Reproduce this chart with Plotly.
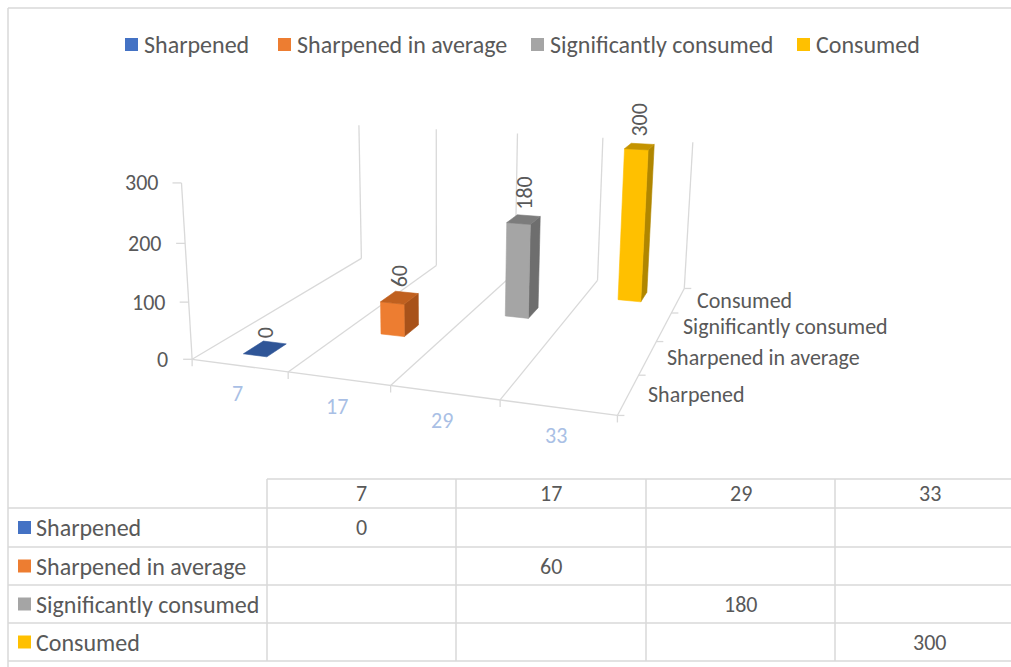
import numpy as np
import plotly.graph_objects as go

# ---- data -------------------------------------------------------------
categories = ["7", "17", "29", "33"]
series = ["Sharpened", "Sharpened in average", "Significantly consumed", "Consumed"]
values = [0, 60, 180, 300]          # series i sits in category i
value_ticks = [0, 100, 200, 300]

# ---- styles -----------------------------------------------------------
front_colors = ["#4472C4", "#ED7D31", "#A5A5A5", "#FFC000"]
top_colors = ["#2F5597", "#C0601F", "#7C7C7C", "#C49300"]
side_colors = ["#2B4F8C", "#A8521A", "#6E6E6E", "#B08600"]
TEXT = "#595959"
GRID = "#D9D9D9"
CAT_TEXT = "#A9BFE5"
FONT = "Calibri, Carlito, Lato, sans-serif"
FS_TXT = 24     # words
FS_NUM = 22     # numbers
FS_DEPTH = 22   # series names along the depth axis (tightly stacked)

W, H = 1011, 667
VMAX = 300
NC, NS = len(categories), len(series)
BAR_W, BAR_D = 0.25, 0.4   # column width / depth as a share of a slot

# ---- 3D -> screen projection (pinhole camera fitted on the plot box) --
box_3d = [(0, 0, 0), (NC, 0, 0), (NC, NS, 0), (0, NS, 0),
          (0, 0, VMAX), (0, NS, VMAX), (NC, NS, VMAX),
          (1, 0, 0), (2, 0, 0), (3, 0, 0),
          (1, NS, VMAX), (2, NS, VMAX), (3, NS, VMAX)]
box_px = [(192, 359), (618, 413), (684, 289), (362, 258),
          (182, 183), (358, 125), (693, 142),
          (288, 371), (390, 388), (500, 401),
          (437, 130), (517, 133), (603, 138)]


def fit_camera(p3, p2):
    rows = []
    for (X, Y, Z), (x, y) in zip(p3, p2):
        Z = Z / VMAX
        x, y = x / 1000.0, y / 1000.0
        rows.append([X, Y, Z, 1, 0, 0, 0, 0, -x * X, -x * Y, -x * Z, -x])
        rows.append([0, 0, 0, 0, X, Y, Z, 1, -y * X, -y * Y, -y * Z, -y])
    _, _, vt = np.linalg.svd(np.array(rows, float))
    return vt[-1].reshape(3, 4)


CAM = fit_camera(box_3d, box_px)


def proj(u, v, h):
    p = CAM @ np.array([u, v, h / VMAX, 1.0])
    return p[0] / p[2] * 1000.0, p[1] / p[2] * 1000.0


fig = go.Figure()


def add_line(pts, color=GRID, width=1.3):
    xs, ys = zip(*pts)
    fig.add_trace(go.Scatter(x=xs, y=ys, mode="lines", hoverinfo="skip",
                             line=dict(color=color, width=width), showlegend=False))


def add_face(pts, color):
    xs, ys = zip(*pts)
    fig.add_trace(go.Scatter(x=list(xs) + [xs[0]], y=list(ys) + [ys[0]], mode="lines",
                             fill="toself", fillcolor=color, hoverinfo="skip",
                             line=dict(color=color, width=0.6), showlegend=False))


# floor lines (category boundaries running front to back)
for k in range(NC + 1):
    add_line([proj(k, 0, 0), proj(k, NS, 0)])
# front edge of the floor
add_line([proj(0, 0, 0), proj(NC, 0, 0)])
# back wall verticals
for k in range(NC + 1):
    add_line([proj(k, NS, 0), proj(k, NS, VMAX)])
# value axis
add_line([proj(0, 0, 0), proj(0, 0, VMAX)])
for t in value_ticks:
    x, y = proj(0, 0, t)
    add_line([(x - 9, y), (x, y)])
    fig.add_annotation(x=x - 22, y=y, text=str(t), showarrow=False, xanchor="right",
                       yanchor="middle", font=dict(family=FONT, size=FS_NUM, color=TEXT))
# category ticks + labels
for k in range(NC + 1):
    x, y = proj(k, 0, 0)
    add_line([(x, y), (x, y + 7)])
for k, c in enumerate(categories):
    x, y = proj(k + 0.5, 0, 0)
    fig.add_annotation(x=x - 2, y=y + 28, text=c, showarrow=False, xanchor="center",
                       yanchor="middle", font=dict(family=FONT, size=FS_NUM, color=CAT_TEXT))
# depth ticks + labels
for k in range(NS + 1):
    x, y = proj(NC, k, 0)
    add_line([(x, y), (x + 7, y)])
for k, s in enumerate(series):
    x, y = proj(NC, k + 0.5, 0)
    fig.add_annotation(x=x + 18, y=y, text=s, showarrow=False, xanchor="left",
                       yanchor="middle", borderpad=0,
                       font=dict(family=FONT, size=FS_DEPTH, color=TEXT))

# columns, drawn back to front
for i in reversed(range(NS)):
    val = values[i]
    u0, u1 = i + 0.5 - BAR_W / 2, i + 0.5 + BAR_W / 2
    v0, v1 = i + 0.5 - BAR_D / 2, i + 0.5 + BAR_D / 2
    if val > 0:
        add_face([proj(u1, v0, 0), proj(u1, v1, 0), proj(u1, v1, val), proj(u1, v0, val)],
                 side_colors[i])
        add_face([proj(u0, v0, 0), proj(u1, v0, 0), proj(u1, v0, val), proj(u0, v0, val)],
                 front_colors[i])
    add_face([proj(u0, v0, val), proj(u1, v0, val), proj(u1, v1, val), proj(u0, v1, val)],
             top_colors[i])
    lx, ly = proj(i + 0.5, i + 0.5, val)
    fig.add_annotation(x=lx, y=ly - 8, text=str(val), showarrow=False, textangle=-90,
                       xanchor="center", yanchor="bottom",
                       font=dict(family=FONT, size=FS_NUM, color=TEXT))

# ---- legend -----------------------------------------------------------
legend_x = [125, 278, 531, 797]
for i, s in enumerate(series):
    fig.add_shape(type="rect", xref="x", yref="y", x0=legend_x[i], x1=legend_x[i] + 13,
                  y0=38, y1=51, fillcolor=front_colors[i], line_width=0)
    fig.add_annotation(x=legend_x[i] + 17, y=44.5, text=s, showarrow=False, xanchor="left",
                       yanchor="middle", font=dict(family=FONT, size=FS_TXT, color=TEXT))

# ---- data table -------------------------------------------------------
col_x = [267, 456, 646, 835, 1024]
row_y = [479, 508, 547, 585, 623, 661]
fig.add_shape(type="line", x0=col_x[0], x1=W, y0=row_y[0], y1=row_y[0],
              line=dict(color=GRID, width=1.5))
for yy in row_y[1:]:
    fig.add_shape(type="line", x0=8, x1=W, y0=yy, y1=yy, line=dict(color=GRID, width=1.5))
for xx in col_x[:-1]:
    fig.add_shape(type="line", x0=xx, x1=xx, y0=row_y[0], y1=row_y[-1],
                  line=dict(color=GRID, width=1.5))
for j, c in enumerate(categories):
    fig.add_annotation(x=(col_x[j] + col_x[j + 1]) / 2, y=(row_y[0] + row_y[1]) / 2,
                       text=c, showarrow=False, font=dict(family=FONT, size=FS_NUM, color=TEXT))
for i, s in enumerate(series):
    yc = (row_y[i + 1] + row_y[i + 2]) / 2
    fig.add_shape(type="rect", x0=18, x1=31, y0=yc - 6.5, y1=yc + 6.5,
                  fillcolor=front_colors[i], line_width=0)
    fig.add_annotation(x=34, y=yc, text=s, showarrow=False, xanchor="left",
                       font=dict(family=FONT, size=FS_TXT, color=TEXT))
    fig.add_annotation(x=(col_x[i] + col_x[i + 1]) / 2, y=yc, text=str(values[i]),
                       showarrow=False, font=dict(family=FONT, size=FS_NUM, color=TEXT))

# chart area border (top and left edges)
fig.add_shape(type="line", x0=8, x1=W, y0=8, y1=8, line=dict(color=GRID, width=1.5))
fig.add_shape(type="line", x0=8, x1=8, y0=8, y1=H, line=dict(color=GRID, width=1.5))

fig.update_layout(
    width=W, height=H, margin=dict(l=0, r=0, t=0, b=0),
    paper_bgcolor="white", plot_bgcolor="white", showlegend=False,
    xaxis=dict(range=[0, W], visible=False, fixedrange=True),
    yaxis=dict(range=[H, 0], visible=False, fixedrange=True),
)
fig.write_html("out.html")
